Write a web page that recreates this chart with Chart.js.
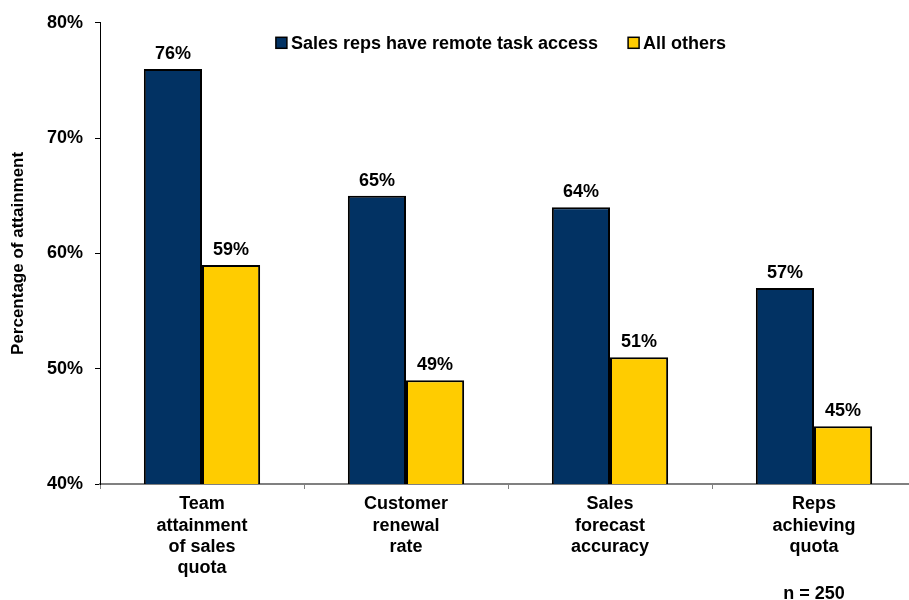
<!DOCTYPE html>
<html>
<head>
<meta charset="utf-8">
<script src="https://cdn.jsdelivr.net/npm/chart.js@4/dist/chart.umd.min.js"></script>
<style>
  html, body { margin: 0; padding: 0; background: #fff; overflow: hidden; }
  #wrap { width: 909px; height: 600px; overflow: hidden; }
</style>
</head>
<body>
<div id="wrap"><canvas id="barChart" width="918" height="600"></canvas></div>
<script>
// カテゴリ（複数行ラベル）
const categories = [
  ['Team', 'attainment', 'of sales', 'quota'],
  ['Customer', 'renewal', 'rate'],
  ['Sales', 'forecast', 'accuracy'],
  ['Reps', 'achieving', 'quota']
];
// 系列
const remoteLabel = 'Sales reps have remote task access';
const remoteValues = [76, 65, 64, 57];
const othersLabel = 'All others';
const othersValues = [59, 49, 51, 45];
// y軸の目盛り
const yTicks = [40, 50, 60, 70, 80];
const sampleNote = 'n = 250';

const navy = '#023263';
const gold = '#FFCC00';
const fontFamily = '"Liberation Sans", Arial, sans-serif';
const boldFont = 'bold 18px ' + fontFamily;

// 棒の上の値・凡例・サンプル数を描く
const extras = {
  id: 'extras',
  afterDatasetsDraw(chart) {
    const c = chart.ctx;
    const area = chart.chartArea;
    c.save();
    c.font = boldFont;
    c.fillStyle = '#000';
    c.textAlign = 'center';
    c.textBaseline = 'bottom';
    chart.data.datasets.forEach((ds, i) => {
      chart.getDatasetMeta(i).data.forEach((bar, j) => {
        c.fillText(ds.data[j] + '%', bar.x, bar.y - 6);
      });
    });

    // 凡例（プロット内の上部中央）
    const box = 11, gap = 4, itemGap = 30;
    const widths = chart.data.datasets.map(ds => box + gap + c.measureText(ds.label).width);
    const total = widths.reduce((a, b) => a + b, 0) + itemGap * (widths.length - 1);
    let x = (area.left + area.right) / 2 - 7 - total / 2;
    const y = area.top + 20;
    c.textAlign = 'left';
    c.textBaseline = 'middle';
    chart.data.datasets.forEach((ds, i) => {
      c.fillStyle = ds.backgroundColor;
      c.fillRect(x, y - box / 2, box, box);
      c.strokeStyle = '#000';
      c.lineWidth = 1.5;
      c.strokeRect(x, y - box / 2, box, box);
      c.fillStyle = '#000';
      c.fillText(ds.label, x + box + gap, y + 1);
      x += widths[i] + itemGap;
    });

    // サンプル数
    const xs = chart.scales.x;
    c.textAlign = 'center';
    c.textBaseline = 'alphabetic';
    c.fillText(sampleNote, xs.getPixelForValue(3), 599);
    c.restore();
  }
};

const ctx = document.getElementById('barChart').getContext('2d');
new Chart(ctx, {
  type: 'bar',
  data: {
    labels: categories,
    datasets: [
      { label: remoteLabel, data: remoteValues, backgroundColor: navy, borderColor: '#000', borderWidth: 2 },
      { label: othersLabel, data: othersValues, backgroundColor: gold, borderColor: '#000', borderWidth: 2 }
    ]
  },
  options: {
    responsive: false,
    animation: false,
    layout: { padding: { top: 22, right: 2, bottom: 0, left: 8 } },
    datasets: { bar: { categoryPercentage: 0.57, barPercentage: 1 } },
    plugins: {
      tooltip: { enabled: false },
      legend: { display: false }
    },
    scales: {
      x: {
        grid: { offset: true, drawOnChartArea: false, drawTicks: true, tickLength: 5, color: '#808080' },
        border: { color: '#808080', width: 2 },
        ticks: {
          color: '#000',
          font: { family: fontFamily, size: 18, weight: 'bold', lineHeight: 1.17 },
          maxRotation: 0,
          padding: 5
        },
        afterFit(scale) { scale.height = 116; }
      },
      y: {
        min: 40,
        max: 80,
        afterBuildTicks(scale) { scale.ticks = yTicks.map(v => ({ value: v })); },
        grid: { drawOnChartArea: false, drawTicks: true, tickLength: 5, color: '#000' },
        border: { color: '#000', width: 1 },
        ticks: {
          color: '#000',
          font: { family: fontFamily, size: 18, weight: 'bold' },
          padding: 12,
          callback: v => v + '%'
        },
        title: {
          display: true,
          text: 'Percentage of attainment',
          color: '#000',
          font: { family: fontFamily, size: 17, weight: 'bold' },
          padding: 0
        },
        afterFit(scale) { scale.width = 92; }
      }
    }
  },
  plugins: [extras]
});
</script>
</body>
</html>
